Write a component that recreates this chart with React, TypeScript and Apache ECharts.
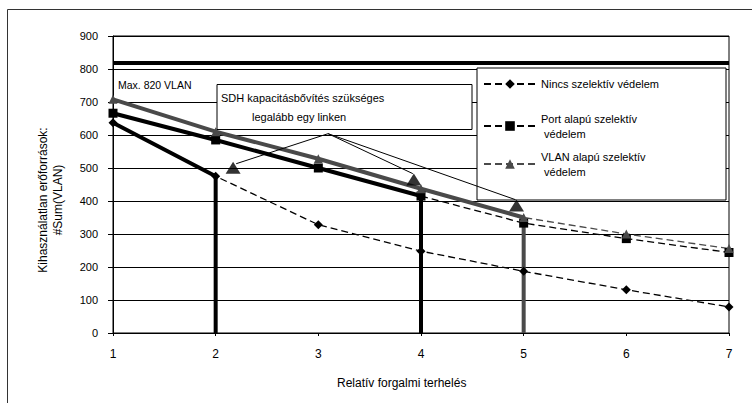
import React, { useEffect, useRef } from "react";
import * as echarts from "echarts";

// ---- data ----
const xValues = [1, 2, 3, 4, 5, 6, 7];
const nincs = [637, 475, 328, 248, 187, 131, 79];
const port = [666, 585, 500, 415, 333, 286, 244];
const vlan = [708, 610, 528, 437, 350, 300, 256];
// index of last point where capacity is still sufficient (solid part)
const nincsLimitIndex = 1;
const portLimitIndex = 3;
const vlanLimitIndex = 4;
const maxVlan = 820;
const seriesNames = [
  "Nincs szelektív védelem",
  "Port alapú szelektív védelem",
  "VLAN alapú szelektív védelem",
];
const legendLabels = [
  "Nincs szelektív védelem",
  "Port alapú szelektív\n védelem",
  "VLAN alapú szelektív\n védelem",
];
const annotationStart = [3.095, 604];
const annotationTargets = [
  [2.2, 513],
  [3.92, 483],
  [4.92, 404],
];
const annotationMarkers = [
  [2.17, 501],
  [3.93, 465],
  [4.93, 386],
];
const yMin = 0;
const yMax = 900;
const yStep = 100;
const xMin = 1;
const xMax = 7;
const xStep = 1;

const FONT = "'Liberation Sans', Arial, Helvetica, sans-serif";
const GRAY = "#4a4a4a";

const pairs = (vals: number[]) => xValues.map((x, i) => [x, vals[i]]);
const solidPart = (vals: number[], idx: number) =>
  xValues
    .slice(0, idx + 1)
    .map((x, i) => [x, vals[i]])
    .concat([[xValues[idx], 0]]);

export default function App() {
  const ref = useRef<HTMLDivElement>(null);
  useEffect(() => {
    document.body.style.margin = "0";
    const chart = echarts.init(ref.current!, null, { renderer: "svg" });
    const dashed = [7, 4];
    const option: any = {
      animation: false,
      backgroundColor: "#fff",
      textStyle: { fontFamily: FONT, color: "#000" },
      grid: {
        left: 113,
        right: 23,
        top: 36,
        bottom: 70,
        show: true,
        borderColor: "#000",
        borderWidth: 1,
      },
      xAxis: {
        type: "value",
        min: xMin,
        max: xMax,
        interval: xStep,
        axisLine: { show: true, lineStyle: { color: "#000", width: 1 } },
        axisTick: { show: true, length: 3, lineStyle: { color: "#000" } },
        axisLabel: { fontSize: 12, margin: 15, color: "#000", fontFamily: FONT },
        splitLine: { show: false },
      },
      yAxis: {
        type: "value",
        min: yMin,
        max: yMax,
        interval: yStep,
        axisLine: { show: true, lineStyle: { color: "#000", width: 1 } },
        axisTick: { show: true, length: 5, lineStyle: { color: "#000" } },
        axisLabel: { fontSize: 11, margin: 15, color: "#000", fontFamily: FONT },
        splitLine: { show: true, lineStyle: { color: "#000", width: 1 } },
      },
      legend: [0, 1, 2].map((i) => ({
        data: [seriesNames[i]],
        left: 483,
        top: [76.5, 111, 149][i],
        orient: "vertical",
        padding: 0,
        itemWidth: 52,
        itemHeight: 12,
        selectedMode: false,
        z: 6,
        formatter: () => legendLabels[i],
        textStyle: { fontSize: 11, lineHeight: 15, color: "#000", fontFamily: FONT },
      })),
      series: [
        {
          type: "line",
          name: seriesNames[0] + " ",
          data: solidPart(nincs, nincsLimitIndex),
          symbol: "none",
          lineStyle: { color: "#000", width: 4 },
          z: 2,
          markLine: {
            silent: true,
            symbol: ["none", "none"],
            label: { show: false },
            lineStyle: { color: "#000", width: 4, type: "solid" },
            data: [{ yAxis: maxVlan }],
          },
        },
        {
          type: "line",
          name: seriesNames[1] + " ",
          data: solidPart(port, portLimitIndex),
          symbol: "none",
          lineStyle: { color: "#000", width: 4 },
          z: 2,
        },
        {
          type: "line",
          name: seriesNames[2] + " ",
          data: solidPart(vlan, vlanLimitIndex),
          symbol: "none",
          lineStyle: { color: GRAY, width: 4 },
          z: 2,
        },
        {
          type: "line",
          name: seriesNames[0],
          data: pairs(nincs),
          symbol: "diamond",
          symbolSize: 9,
          itemStyle: { color: "#000" },
          lineStyle: { color: "#000", width: 1.3, type: dashed },
          z: 3,
        },
        {
          type: "line",
          name: seriesNames[1],
          data: pairs(port),
          symbol: "rect",
          symbolSize: 9,
          itemStyle: { color: "#000" },
          lineStyle: { color: "#000", width: 1.3, type: dashed },
          z: 3,
        },
        {
          type: "line",
          name: seriesNames[2],
          data: pairs(vlan),
          symbol: "triangle",
          symbolSize: 9,
          itemStyle: { color: GRAY },
          lineStyle: { color: GRAY, width: 1.3, type: dashed },
          z: 3,
        },
        {
          type: "scatter",
          name: "annotation",
          data: annotationMarkers,
          symbol: "triangle",
          symbolSize: [15, 12],
          itemStyle: { color: "#000" },
          z: 10,
          markLine: {
            silent: true,
            symbol: ["none", "none"],
            label: { show: false },
            lineStyle: { color: "#000", width: 1, type: "solid" },
            data: annotationTargets.map((t) => [
              { coord: annotationStart },
              { coord: t },
            ]),
          },
        },
      ],
      graphic: [
        {
          type: "rect",
          z: 0,
          shape: { x: 7.5, y: 9.5, width: 800, height: 500 },
          style: { fill: "none", stroke: "#333", lineWidth: 1 },
        },
        {
          type: "text",
          z: 4,
          x: 118,
          y: 85,
          style: {
            text: "Max. 820 VLAN",
            fontSize: 10.5,
            fontFamily: FONT,
            fill: "#000",
            verticalAlign: "middle",
          },
        },
        {
          type: "rect",
          z: 4,
          shape: { x: 217, y: 84.5, width: 255, height: 45 },
          style: { fill: "#fff", stroke: "#000", lineWidth: 1 },
        },
        {
          type: "text",
          z: 5,
          x: 221,
          y: 98,
          style: {
            text: "SDH kapacitásbővítés szükséges",
            fontSize: 11,
            fontFamily: FONT,
            fill: "#000",
            verticalAlign: "middle",
          },
        },
        {
          type: "text",
          z: 5,
          x: 252,
          y: 117,
          style: {
            text: "legalább egy linken",
            fontSize: 11,
            fontFamily: FONT,
            fill: "#000",
            verticalAlign: "middle",
          },
        },
        {
          type: "rect",
          z: 4,
          shape: { x: 477, y: 68, width: 249, height: 132 },
          style: { fill: "#fff", stroke: "#000", lineWidth: 1 },
        },
        {
          type: "text",
          z: 5,
          x: 50,
          y: 200,
          rotation: Math.PI / 2,
          style: {
            text: "Kihasználatlan erőforrások:\n#Sum(VLAN)",
            fontSize: 12,
            lineHeight: 15,
            fontFamily: FONT,
            fill: "#000",
            align: "center",
            verticalAlign: "middle",
          },
        },
        {
          type: "text",
          z: 5,
          x: 337,
          y: 383,
          style: {
            text: "Relatív forgalmi terhelés",
            fontSize: 12,
            fontFamily: FONT,
            fill: "#000",
            verticalAlign: "middle",
          },
        },
      ],
    };
    chart.setOption(option);
    return () => chart.dispose();
  }, []);
  return (
    <div
      ref={ref}
      style={{ position: "fixed", left: 0, top: 0, width: 752, height: 403, background: "#fff" }}
    />
  );
}
